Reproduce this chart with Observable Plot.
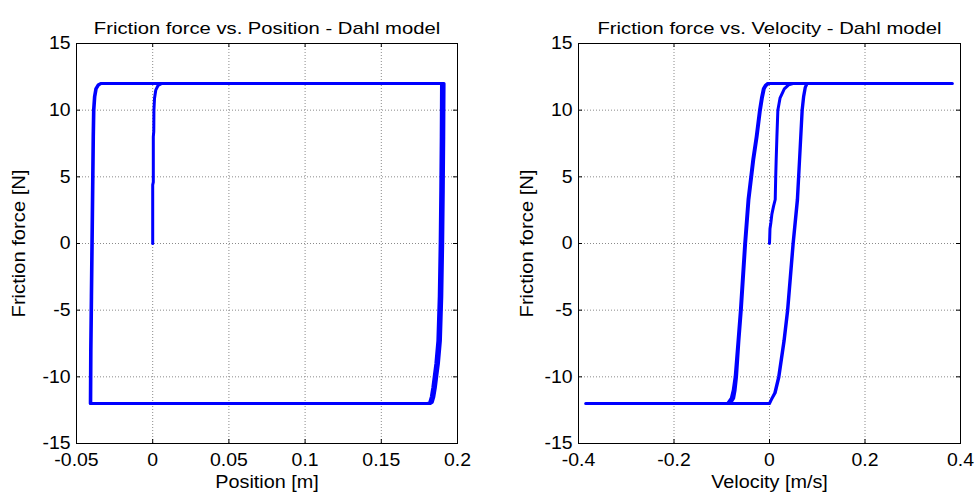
<!DOCTYPE html>
<html>
<head>
<meta charset="utf-8">
<script src="https://cdn.jsdelivr.net/npm/d3@7"></script>
<script src="https://cdn.jsdelivr.net/npm/@observablehq/plot@0.6"></script>
<style>
  html, body { margin: 0; padding: 0; background: #fff; }
  #chart { position: relative; width: 976px; height: 498px; overflow: hidden; }
  .panel { position: absolute; top: 0; width: 488px; height: 498px; }
</style>
</head>
<body>
<div id="chart">
  <div class="panel" id="p1" style="left:0"></div>
  <div class="panel" id="p2" style="left:488px"></div>
</div>
<script>
// Dahl friction model, simulated response: friction force against position [m]
const positionM = [
  0, 0, 0.0004, 0.0004, 0.0007, 0.0008, 0.0012, 0.0020, 0.0035, 0.0060,
  0.1895, 0.1893, 0.1890, 0.1886, 0.1880, 0.1871, 0.1858, 0.1849, 0.1838, 0.1828, 0.1818, 0.1805,
  -0.0410, -0.0408, -0.0404, -0.0400, -0.0396, -0.0392, -0.0389, -0.0383, -0.0374, -0.0358, -0.0342,
  0.1912, 0.1910, 0.1907, 0.1903, 0.1897, 0.1888, 0.1875, 0.1866, 0.1855, 0.1845, 0.1835, 0.1822,
  -0.0406, -0.0404, -0.0400, -0.0396, -0.0392, -0.0388, -0.0385, -0.0379, -0.0370, -0.0354, -0.0338,
  0.1905, 0.1903, 0.1900, 0.1896, 0.1890, 0.1881, 0.1868, 0.1859, 0.1848, 0.1838, 0.1828, 0.1815,
  0.0500
];
const forceByPositionN = [
  0, 4.4, 4.6, 8.0, 8.4, 10.0, 10.9, 11.5, 11.85, 12,
  12, 8, 4, 0, -4, -7.3, -9.0, -9.8, -10.8, -11.5, -11.9, -12,
  -12, -8, -4, 0, 4, 8, 10, 11, 11.6, 11.9, 12,
  12, 8, 4, 0, -4, -7.3, -9.0, -9.8, -10.8, -11.5, -11.9, -12,
  -12, -8, -4, 0, 4, 8, 10, 11, 11.6, 11.9, 12,
  12, 8, 4, 0, -4, -7.3, -9.0, -9.8, -10.8, -11.5, -11.9, -12,
  -12
];

// Same run: friction force against velocity [m/s]
const velocityMs = [
  0, 0.0005, 0.001, 0.003, 0.005, 0.0085, 0.012, 0.013, 0.014, 0.0155, 0.0175, 0.022, 0.031, 0.040, 0.049,
  0.383,
  -0.004, -0.009, -0.013, -0.017, -0.021, -0.028, -0.035, -0.045, -0.052, -0.061, -0.066, -0.072, -0.076, -0.080, -0.088,
  -0.385,
  0, 0.004, 0.011, 0.019, 0.030, 0.0375, 0.049, 0.058, 0.0626, 0.068, 0.071, 0.0745, 0.078,
  0.383,
  -0.002, -0.007, -0.011, -0.015, -0.019, -0.026, -0.033, -0.043, -0.050, -0.059, -0.064, -0.069, -0.072, -0.075, -0.082,
  -0.385,
  0, 0.004, 0.012, 0.020, 0.031, 0.0385, 0.050, 0.059, 0.0633, 0.0688, 0.0718, 0.0752, 0.079,
  0.383
];
const forceByVelocityN = [
  0, 0.5, 1.1, 1.6, 2.2, 2.8, 3.3, 5, 6.3, 8, 10, 10.9, 11.6, 11.9, 12,
  12,
  12, 11.85, 11.6, 10.9, 10, 8, 6.3, 3.3, 0, -5, -7.3, -10, -11, -11.6, -12,
  -12,
  -12, -11.7, -11.2, -10, -7.3, -5, 0, 3.3, 6.3, 10, 11, 11.7, 12,
  12,
  12, 11.85, 11.6, 10.9, 10, 8, 6.3, 3.3, 0, -5, -7.3, -10, -11, -11.6, -12,
  -12,
  -12, -11.7, -11.2, -10, -7.3, -5, 0, 3.3, 6.3, 10, 11, 11.7, 12,
  12
];

// Axis ticks and their labels
const positionTicks = [-0.05, 0, 0.05, 0.1, 0.15, 0.2];
const positionTickLabels = ["-0.05", "0", "0.05", "0.1", "0.15", "0.2"];
const velocityTicks = [-0.4, -0.2, 0, 0.2, 0.4];
const velocityTickLabels = ["-0.4", "-0.2", "0", "0.2", "0.4"];
const forceTicks = [-15, -10, -5, 0, 5, 10, 15];
const forceTickLabels = ["-15", "-10", "-5", "0", "5", "10", "15"];

const titles = ["Friction force vs. Position - Dahl model", "Friction force vs. Velocity - Dahl model"];
const xTitles = ["Position [m]", "Velocity [m/s]"];
const yTitle = "Friction force [N]";

function panel({xs, ys, xDomain, xTicks, xLabels, title, xTitle, marginLeft, marginRight, yTitleDx}) {
  const W = 488, H = 498, mt = 43, mb = 55;
  const fw = W - marginLeft - marginRight, fh = H - mt - mb;
  const pts = xs.map((x, i) => ({x, y: ys[i]}));
  const grid = {stroke: "#8a8a8a", strokeOpacity: 1, strokeWidth: 1, strokeDasharray: "1,2"};
  const tick = {stroke: "#000", strokeWidth: 1};
  return Plot.plot({
    width: W, height: H,
    marginLeft, marginRight, marginTop: mt, marginBottom: mb,
    style: {fontFamily: "'Liberation Sans', Arial, sans-serif", fontSize: "18px", color: "#000", background: "#fff", overflow: "visible"},
    x: {domain: xDomain},
    y: {domain: [-15, 15]},
    marks: [
      Plot.gridX(xTicks, grid),
      Plot.gridY(forceTicks, grid),
      Plot.line(pts, {x: "x", y: "y", stroke: "#0000ff", strokeWidth: 3, strokeLinejoin: "round", strokeLinecap: "round"}),
      Plot.frame({stroke: "#000", strokeWidth: 1}),
      // inward tick marks on all four sides
      Plot.ruleX(xTicks, {...tick, insetTop: fh - 4}),
      Plot.ruleX(xTicks, {...tick, insetBottom: fh - 4}),
      Plot.ruleY(forceTicks, {...tick, insetRight: fw - 4}),
      Plot.ruleY(forceTicks, {...tick, insetLeft: fw - 4}),
      Plot.axisX(xTicks, {tickSize: 0, tickPadding: 10, fontSize: 18, label: null,
        tickFormat: d => xLabels[xTicks.indexOf(d)]}),
      Plot.axisY(forceTicks, {tickSize: 0, tickPadding: 6, fontSize: 18, label: null,
        tickFormat: d => forceTickLabels[forceTicks.indexOf(d)]}),
      Plot.text([title], {text: d => d, frameAnchor: "top", dy: -21.4, fontSize: 17, fill: "#000"}),
      Plot.text([xTitle], {text: d => d, frameAnchor: "bottom", dy: 44.5, fontSize: 18, fill: "#000"}),
      Plot.text([yTitle], {text: d => d, frameAnchor: "left", textAnchor: "middle", lineAnchor: "middle",
        dx: yTitleDx, rotate: -90, fontSize: 18, fill: "#000"})
    ]
  });
}

const left = panel({
  xs: positionM, ys: forceByPositionN, xDomain: [-0.05, 0.2],
  xTicks: positionTicks, xLabels: positionTickLabels,
  title: titles[0], xTitle: xTitles[0],
  marginLeft: 76, marginRight: 31, yTitleDx: -56.8
});
const right = panel({
  xs: velocityMs, ys: forceByVelocityN, xDomain: [-0.4, 0.4],
  xTicks: velocityTicks, xLabels: velocityTickLabels,
  title: titles[1], xTitle: xTitles[1],
  marginLeft: 90, marginRight: 16, yTitleDx: -50.8
});
document.getElementById("p1").appendChild(left);
document.getElementById("p2").appendChild(right);

// widen glyphs along the text direction
function widen(t, k) {
  const w = t.getComputedTextLength();
  if (w > 0) {
    t.setAttribute("textLength", (w * k).toFixed(1));
    t.setAttribute("lengthAdjust", "spacingAndGlyphs");
  }
}
for (const svg of [left, right]) {
  svg.querySelectorAll('[aria-label="x-axis tick label"] text, [aria-label="y-axis tick label"] text')
    .forEach(t => widen(t, 1.08));
  svg.querySelectorAll("text").forEach(t => {
    const s = t.textContent;
    if (titles.includes(s)) widen(t, 1.19);
    else if (xTitles.includes(s)) widen(t, 1.1);
    else if (s === yTitle) widen(t, 1.12);
  });
}
</script>
</body>
</html>
